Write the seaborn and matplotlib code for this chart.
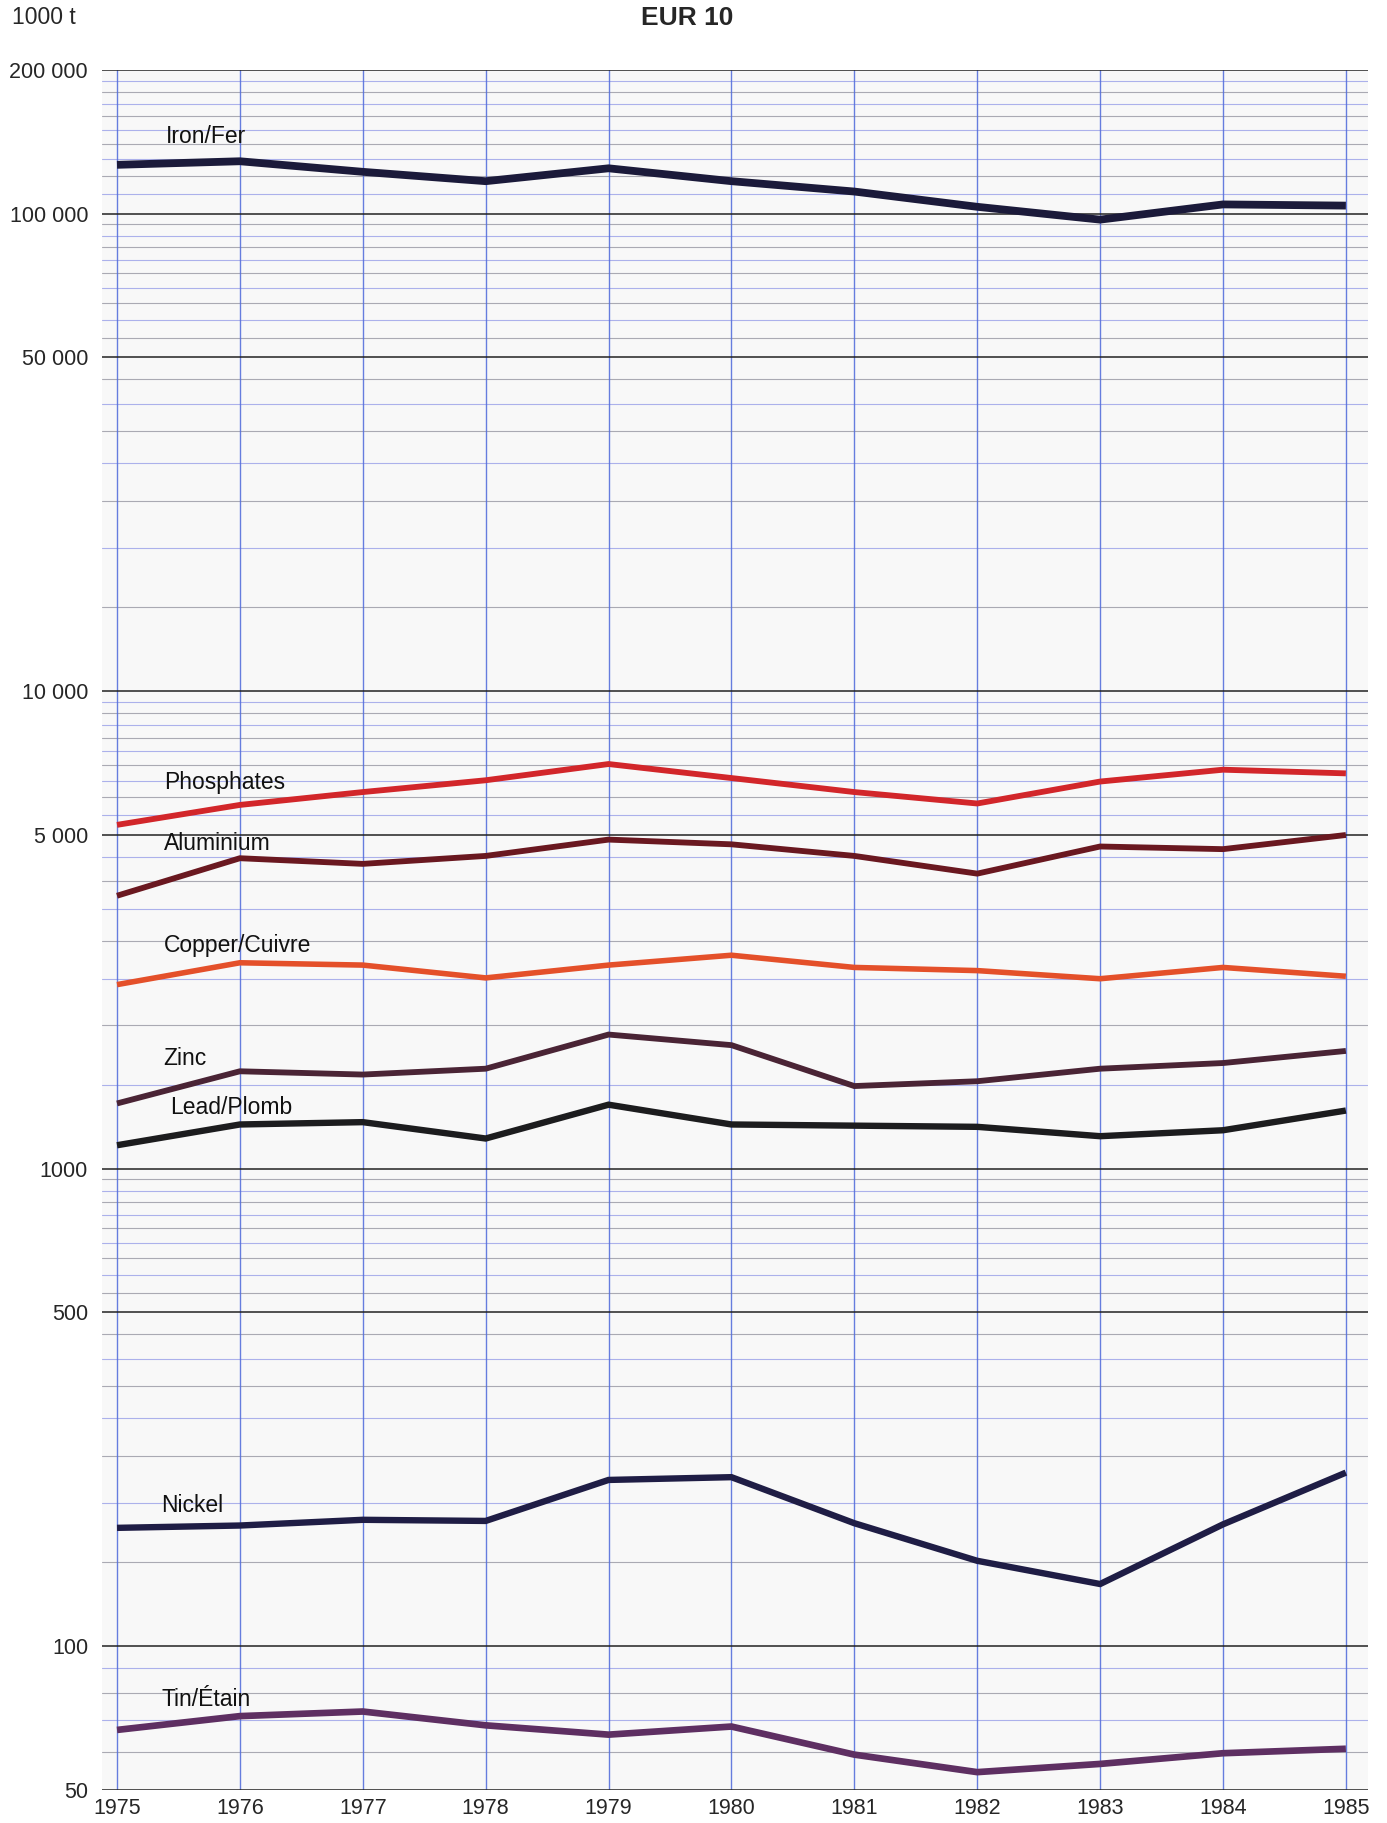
import numpy as np
import pandas as pd
import matplotlib
matplotlib.use("Agg")
import matplotlib.pyplot as plt
import seaborn as sns

# values, 1000 t, EUR 10
years = [1975, 1976, 1977, 1978, 1979, 1980, 1981, 1982, 1983, 1984, 1985]

iron = [126600, 128800, 122400, 117000, 124500, 117000, 111300, 103400, 97200, 104600, 104000]
phosphates = [5250, 5780, 6150, 6510, 7040, 6580, 6150, 5820, 6470, 6850, 6730]
aluminium = [3730, 4470, 4350, 4520, 4890, 4780, 4520, 4150, 4730, 4670, 5000]
copper = [2430, 2700, 2670, 2510, 2670, 2800, 2640, 2600, 2500, 2640, 2530]
zinc = [1370, 1600, 1575, 1620, 1910, 1815, 1490, 1525, 1620, 1665, 1765]
lead = [1120, 1238, 1252, 1157, 1362, 1238, 1231, 1224, 1170, 1204, 1324]
nickel = [177, 179, 184, 183, 223, 226, 181, 151, 135, 180, 231]
tin = [66.8, 71.4, 73.0, 68.3, 65.3, 67.9, 59.3, 54.5, 56.7, 59.7, 61.0]

series_names = ["Iron/Fer", "Phosphates", "Aluminium", "Copper/Cuivre",
                "Zinc", "Lead/Plomb", "Nickel", "Tin/Étain"]
series_values = [iron, phosphates, aluminium, copper, zinc, lead, nickel, tin]

ytick_values = [50, 100, 500, 1000, 5000, 10000, 50000, 100000, 200000]
ytick_labels = ["50", "100", "500", "1000", "5 000", "10 000", "50 000", "100 000", "200 000"]

# styling
colors = {
    "Iron/Fer": "#1b1a3a",
    "Phosphates": "#d2262a",
    "Aluminium": "#6a1820",
    "Copper/Cuivre": "#e4502a",
    "Zinc": "#4a2435",
    "Lead/Plomb": "#1c1c1e",
    "Nickel": "#1f1d45",
    "Tin/Étain": "#5e2f62",
}
widths = {
    "Iron/Fer": 5.6, "Phosphates": 4.2, "Aluminium": 4.2, "Copper/Cuivre": 4.0,
    "Zinc": 4.2, "Lead/Plomb": 4.6, "Nickel": 4.6, "Tin/Étain": 4.8,
}
# where the series names sit (year, value)
label_pos = {
    "Iron/Fer": (1975.40, 145000),
    "Phosphates": (1975.38, 6450),
    "Aluminium": (1975.38, 4790),
    "Copper/Cuivre": (1975.38, 2940),
    "Zinc": (1975.38, 1705),
    "Lead/Plomb": (1975.43, 1346),
    "Nickel": (1975.36, 197),
    "Tin/Étain": (1975.36, 77.2),
}

df = pd.DataFrame({"Year": years})
for name, vals in zip(series_names, series_values):
    df[name] = vals
long = df.melt(id_vars="Year", var_name="Series", value_name="Value")

sns.set_style("white")
plt.rcParams["font.family"] = ["Liberation Sans", "DejaVu Sans"]

fig = plt.figure(figsize=(13.87, 18.23), dpi=100)
fig.patch.set_facecolor("white")
W, H = 1387, 1823
ax = fig.add_axes([102 / W, 1 - 1790 / H, (1368 - 102) / W, (1790 - 70) / H])
ax.set_facecolor("#f8f8f8")

ax.set_yscale("log")
ax.set_ylim(50, 200000)
ax.set_xlim(1974.878, 1985.18)

# log-paper style minor lines
minor = list(np.arange(60, 100, 10)) + list(np.arange(150, 1000, 50)) + \
    list(np.arange(1500, 10000, 500)) + list(np.arange(15000, 100000, 5000)) + \
    list(np.arange(110000, 200000, 10000))
for i, v in enumerate(minor):
    if v in ytick_values:
        continue
    c = "#8a8a96" if i % 2 == 0 else "#8c93e6"
    ax.axhline(v, color=c, lw=0.8, alpha=0.7, zorder=1)
for v in ytick_values:
    ax.axhline(v, color="#222222", lw=1.1, zorder=1.5)
for yr in years:
    ax.axvline(yr, color="#5670dc", lw=1.0, alpha=0.9, zorder=1.2)

for name in series_names:
    sub = long[long["Series"] == name]
    sns.lineplot(data=sub, x="Year", y="Value", ax=ax, color=colors[name],
                 lw=widths[name], zorder=3, legend=False,
                 solid_joinstyle="miter", solid_capstyle="butt")
    lx, ly = label_pos[name]
    ax.text(lx, ly, name, fontsize=16.5, va="center", ha="left", color="#111111", zorder=4)

ax.set_yticks(ytick_values)
ax.set_yticklabels(ytick_labels)
ax.yaxis.set_minor_locator(matplotlib.ticker.NullLocator())
ax.set_xticks(years)
ax.set_xticklabels([str(y) for y in years])
ax.tick_params(axis="y", length=7, width=1.1, color="#222222", pad=3, labelsize=15.5)
ax.tick_params(axis="x", length=0, pad=6, labelsize=15.5)
ax.set_xlabel("")
ax.set_ylabel("")
for s in ax.spines.values():
    s.set_visible(False)

fig.text(12 / W, 1 - 18 / H, "1000 t", fontsize=16.5, va="center", ha="left")
fig.text(687 / W, 1 - 18 / H, "EUR 10", fontsize=19, fontweight="bold", va="center", ha="center")

fig.savefig("out.png", dpi=100)
